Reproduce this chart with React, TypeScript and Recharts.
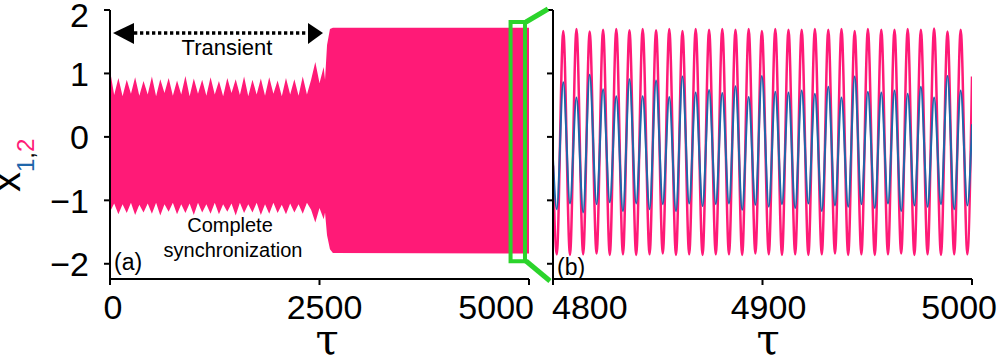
import React from 'react';
import { ComposedChart, Area, Line, XAxis, YAxis, ReferenceArea } from 'recharts';

const PINK = '#ff1a77';
const BLUE = '#1f66aa';
const GREEN = '#2bd42b';
const FONT = '"Liberation Sans", Arial, sans-serif';

// panel (a): envelope of x1,2 over the whole run (blue sits under the pink)
const fullTau = [
  0, 50, 100, 150, 200, 250, 300, 350, 400, 450, 500, 550, 600, 650, 700, 750, 800, 850, 900, 950,
  1000, 1050, 1100, 1150, 1200, 1250, 1300, 1350, 1400, 1450, 1500, 1550, 1600, 1650, 1700, 1750,
  1800, 1850, 1900, 1950, 2000, 2050, 2100, 2150, 2200, 2250, 2300, 2350, 2400, 2450, 2500, 2550,
  2566, 2590, 2625, 2660, 5000,
];
const fullHigh = [
  1.05, 0.66, 0.93, 0.64, 0.9, 0.68, 0.94, 0.65, 0.88, 0.67, 0.95, 0.64, 0.91, 0.69, 0.93, 0.65, 0.89, 0.67, 0.96, 0.64,
  0.92, 0.68, 0.9, 0.65, 0.94, 0.67, 0.88, 0.64, 0.93, 0.69, 0.91, 0.66, 0.95, 0.64, 0.9, 0.67,
  0.92, 0.65, 0.94, 0.68, 0.89, 0.64, 0.93, 0.67, 0.91, 0.65, 0.95, 0.67, 0.9, 1.18, 0.85, 1.1,
  0.9, 1.45, 1.7, 1.72, 1.72,
];
const fullLow = [
  -1.18, -1.05, -1.22, -1.06, -1.2, -1.04, -1.23, -1.07, -1.19, -1.05, -1.21, -1.04, -1.24, -1.06, -1.18, -1.04, -1.22, -1.06, -1.2, -1.05,
  -1.23, -1.04, -1.19, -1.06, -1.21, -1.04, -1.22, -1.06, -1.18, -1.05, -1.24, -1.04, -1.2, -1.06, -1.19, -1.04,
  -1.23, -1.06, -1.21, -1.04, -1.2, -1.07, -1.22, -1.05, -1.19, -1.06, -1.21, -1.04, -1.15, -1.35, -1.12, -1.3,
  -1.19, -1.55, -1.77, -1.83, -1.84,
];

// panel (b): turning points of x1 (blue) and x2 (pink) between 4800 and 5000
const troughTau = [
  4801.8, 4808.1, 4814.4, 4820.8, 4827.1, 4833.4, 4839.7, 4846.1, 4852.4, 4858.7, 4865.0, 4871.4, 4877.7, 4884.0, 4890.3, 4896.6,
  4903.0, 4909.3, 4915.6, 4921.9, 4928.3, 4934.6, 4940.9, 4947.2, 4953.6, 4959.9, 4966.2, 4972.5, 4978.8, 4985.2, 4991.5, 4997.8,
];
const peakTau = [
  4804.9, 4811.2, 4817.5, 4823.9, 4830.2, 4836.5, 4842.8, 4849.2, 4855.5, 4861.8, 4868.1, 4874.5, 4880.8, 4887.1, 4893.4, 4899.7,
  4906.1, 4912.4, 4918.7, 4925.0, 4931.4, 4937.7, 4944.0, 4950.3, 4956.7, 4963.0, 4969.3, 4975.6, 4981.9, 4988.3, 4994.6,
];
const pinkPeaks = [
  1.67, 1.7, 1.66, 1.69, 1.7, 1.68, 1.7, 1.68, 1.7, 1.67, 1.7, 1.69, 1.7, 1.69, 1.7, 1.67,
  1.7, 1.69, 1.69, 1.7, 1.69, 1.7, 1.67, 1.7, 1.69, 1.69, 1.7, 1.69, 1.71, 1.66, 1.69,
];
const pinkTroughs = [
  -1.85, -1.86, -1.85, -1.84, -1.86, -1.85, -1.86, -1.85, -1.84, -1.86, -1.85, -1.86, -1.85, -1.85, -1.86, -1.84,
  -1.85, -1.86, -1.85, -1.86, -1.85, -1.84, -1.86, -1.85, -1.86, -1.85, -1.84, -1.86, -1.85, -1.86, -1.85, -1.85,
];
const bluePeaks = [
  0.86, 0.62, 0.98, 0.75, 0.64, 0.91, 0.64, 0.89, 0.63, 0.95, 0.7, 0.74, 0.69, 0.8, 0.63, 0.96,
  0.71, 0.7, 0.73, 0.68, 0.79, 0.62, 0.95, 0.71, 0.7, 0.73, 0.68, 0.79, 0.62, 0.96, 0.73,
];
const blueTroughs = [
  -1.14, -1.05, -1.19, -1.06, -1.03, -1.17, -1.05, -1.14, -1.06, -1.17, -1.05, -1.09, -1.06, -1.05, -1.15, -1.07,
  -1.1, -1.06, -1.12, -1.05, -1.17, -1.08, -1.1, -1.06, -1.12, -1.05, -1.17, -1.08, -1.1, -1.06, -1.14, -1.08,
];
const zoomStart = { t: 4800, pink: -0.45, blue: -0.35 };
const zoomEnd = { t: 5000, pink: 0.95, blue: 0.2 };

const fullTicks = [0, 2500, 5000];
const zoomTicks = [4800, 4900, 5000];
const yTicks = [-2, -1, 0, 1, 2];
const yDomain: [number, number] = [-2.24, 2];

const fullRows = fullTau.map((t, i) => ({ t, band: [fullLow[i], fullHigh[i]] }));

const zoomRows: { t: number; pink: number; blue: number }[] = [zoomStart];
troughTau.forEach((t, i) => {
  zoomRows.push({ t, pink: pinkTroughs[i], blue: blueTroughs[i] });
  if (i < peakTau.length) zoomRows.push({ t: peakTau[i], pink: pinkPeaks[i], blue: bluePeaks[i] });
});
zoomRows.push(zoomEnd);

const fmt = (v: number) => (v < 0 ? '\u2212' + Math.abs(v) : String(v));

const YTick = (props: any) => {
  const { x, y, payload } = props;
  const shift = payload.value === 2 ? 5 : 0;
  return (
    <text x={x} y={y + shift} dy="0.36em" textAnchor="end" fontSize={34} fontFamily={FONT} fill="#000">
      {fmt(payload.value)}
    </text>
  );
};

// edge labels are pulled inward in the original figure
const makeXTick = (place: Record<number, [string, number]>) => (props: any) => {
  const { x, y, payload } = props;
  const [anchor, dx] = place[payload.value] || ['middle', 0];
  return (
    <text x={x + dx} y={y} dy="0.71em" textAnchor={anchor} fontSize={34} fontFamily={FONT} fill="#000">
      {payload.value}
    </text>
  );
};
const XTickA = makeXTick({ 0: ['middle', 3], 2500: ['middle', 5], 5000: ['end', 5] });
const XTickB = makeXTick({ 4800: ['start', -1], 4900: ['middle', 6], 5000: ['end', 25] });

const axisStroke = { stroke: '#000', strokeWidth: 2 };
const TAU_FONT = '"DejaVu Serif", serif';

export default function App() {
  return (
    <div style={{ position: 'absolute', left: 0, top: 0, width: 997, height: 360, background: '#fff' }}>
      <div style={{ position: 'absolute', left: 0, top: 0 }}>
        <ComposedChart width={540} height={360} data={fullRows} margin={{ top: 10, right: 11, bottom: 21, left: 0 }}>
          <XAxis dataKey="t" type="number" domain={[0, 5000]} ticks={fullTicks} interval={0} height={60}
            tickSize={6} tickMargin={10} axisLine={axisStroke} tickLine={axisStroke} tick={(p: any) => <XTickA {...p} />} allowDataOverflow />
          <XAxis xAxisId="top" orientation="top" type="number" domain={[0, 5000]} height={0}
            tick={false} tickLine={false} axisLine={axisStroke} />
          <YAxis type="number" domain={yDomain} ticks={yTicks} interval={0} width={110}
            tickSize={6} tickMargin={15} axisLine={axisStroke} tickLine={axisStroke} tick={(p: any) => <YTick {...p} />} allowDataOverflow />
          <YAxis yAxisId="right" orientation="right" type="number" domain={yDomain} width={0}
            tick={false} tickLine={false} axisLine={axisStroke} />
          <Area dataKey="band" type="linear" stroke="none" fill={PINK} fillOpacity={1} isAnimationActive={false} />
          <ReferenceArea x1={4780} x2={4952} y1={-1.96} y2={1.81} fill="none" stroke={GREEN} strokeWidth={4} ifOverflow="visible" />
        </ComposedChart>
      </div>
      <div style={{ position: 'absolute', left: 540, top: 0 }}>
        <ComposedChart width={457} height={360} data={zoomRows} margin={{ top: 10, right: 25, bottom: 21, left: 0 }}>
          <XAxis dataKey="t" type="number" domain={[4800, 5000]} ticks={zoomTicks} interval={0} height={60}
            tickSize={6} tickMargin={10} axisLine={axisStroke} tickLine={axisStroke} tick={(p: any) => <XTickB {...p} />} allowDataOverflow />
          <XAxis xAxisId="top" orientation="top" type="number" domain={[4800, 5000]} height={0}
            tick={false} tickLine={false} axisLine={axisStroke} />
          <YAxis type="number" domain={yDomain} ticks={yTicks} interval={0} width={13}
            tickSize={6} tickMargin={2} axisLine={axisStroke} tickLine={axisStroke} tickFormatter={() => ''} allowDataOverflow />
          <YAxis yAxisId="right" orientation="right" type="number" domain={yDomain} width={0}
            tick={false} tickLine={false} axisLine={axisStroke} />
          <Line dataKey="pink" type="monotone" stroke={PINK} strokeWidth={2.5} dot={false} isAnimationActive={false} />
          <Line dataKey="blue" type="monotone" stroke={BLUE} strokeWidth={2} dot={false} isAnimationActive={false} />
        </ComposedChart>
      </div>
      <svg width={997} height={360} style={{ position: 'absolute', left: 0, top: 0, pointerEvents: 'none' }}>
        {/* y label x_{1,2} */}
        <g transform="translate(20,192) rotate(-90)" fontFamily={FONT}>
          <text x={0} y={0} fontSize={40} fill="#000">
            x
            <tspan dy={14} fontSize={24} fill={BLUE}>1</tspan>
            <tspan fontSize={24} fill="#000">,</tspan>
            <tspan fontSize={24} fill={PINK}>2</tspan>
          </text>
        </g>
        {/* transient arrow */}
        <line x1={134} y1={33} x2={308} y2={33} stroke="#000" strokeWidth={3.5} strokeDasharray="3.3 2.7" />
        <polygon points="113,33 134,23 134,44" fill="#000" />
        <polygon points="323,33 308,23 308,44" fill="#000" />
        <text x={227} y={55} textAnchor="middle" fontSize={22} fontFamily={FONT} fill="#000">Transient</text>
        <text x={230} y={232} textAnchor="middle" fontSize={20} fontFamily={FONT} fill="#000">Complete</text>
        <text x={233} y={257} textAnchor="middle" fontSize={20} fontFamily={FONT} fill="#000">synchronization</text>
        <text x={114} y={270} fontSize={23} fontFamily={FONT} fill="#000">(a)</text>
        <text x={557} y={275} fontSize={23} fontFamily={FONT} fill="#000">(b)</text>
        {/* zoom connectors */}
        <line x1={526} y1={22} x2={548} y2={9} stroke={GREEN} strokeWidth={5} />
        <line x1={526} y1={261} x2={550} y2={281} stroke={GREEN} strokeWidth={5} />
        {/* tau labels */}
        <text x={327} y={354} textAnchor="middle" fontSize={42} fontFamily={TAU_FONT} fill="#000">τ</text>
        <text x={768} y={354} textAnchor="middle" fontSize={42} fontFamily={TAU_FONT} fill="#000">τ</text>
      </svg>
    </div>
  );
}
